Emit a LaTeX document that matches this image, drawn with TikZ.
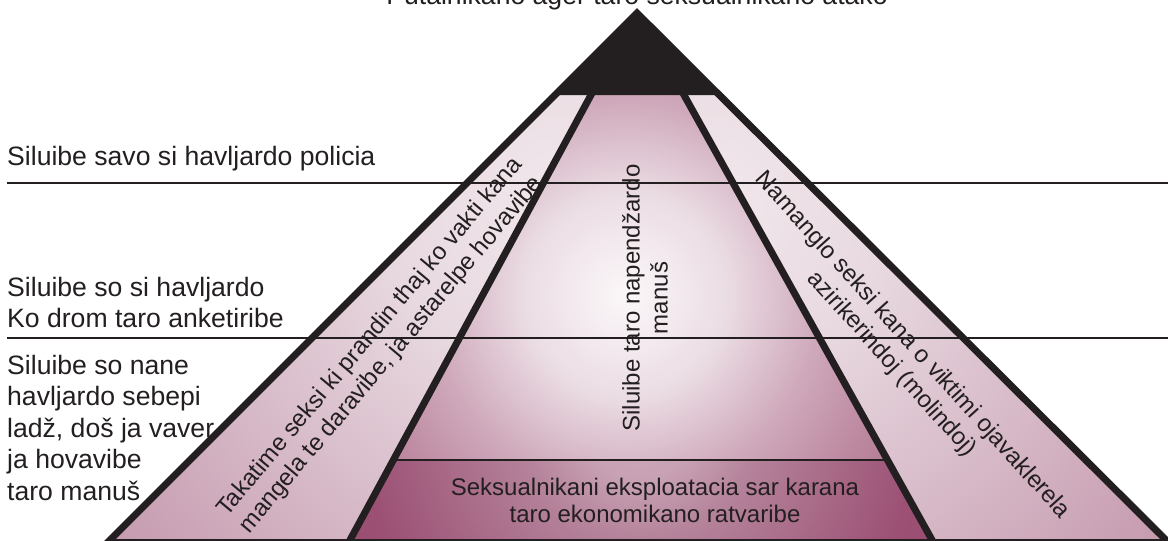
\documentclass[tikz,border=0pt]{standalone}
\usepackage{fontspec}
\setmainfont{Liberation Sans}
\definecolor{ink}{HTML}{231F20}
\definecolor{bandA}{HTML}{F1E8EC}
\definecolor{bandB}{HTML}{E8D9E0}
\definecolor{bandC}{HTML}{C599AE}
\definecolor{cenA}{HTML}{FBF7F9}
\definecolor{cenB}{HTML}{EBDDE4}
\definecolor{cenC}{HTML}{CFA9BB}
\definecolor{cenD}{HTML}{BE8BA2}
\definecolor{cenE}{HTML}{A86D89}
\definecolor{botA}{HTML}{CEAABC}
\definecolor{botB}{HTML}{C8A1B4}
\definecolor{botC}{HTML}{B4829A}
\definecolor{botD}{HTML}{9C5174}
\definecolor{botE}{HTML}{984A6E}
\pgfdeclareradialshading{bandshade}{\pgfpoint{0bp}{0bp}}{color(0bp)=(bandA); color(15bp)=(bandB); color(50bp)=(bandC)}
\pgfdeclareradialshading{centershade}{\pgfpoint{0bp}{0bp}}{color(0bp)=(cenA); color(14bp)=(cenB); color(27bp)=(cenC); color(37bp)=(cenD); color(50bp)=(cenE)}
\pgfdeclareradialshading{bottomshade}{\pgfpoint{0bp}{0bp}}{color(0bp)=(botA); color(8.8bp)=(botB); color(17.6bp)=(botC); color(40.7bp)=(botD); color(50bp)=(botE)}
\tikzset{
  lab/.style={font=\fontsize{26.6}{31.5}\selectfont, text=ink, inner sep=0pt},
  inlab/.style={font=\fontsize{24}{28}\selectfont, text=ink, inner sep=0pt, align=center},
  thinline/.style={draw=ink, line width=1.3pt},
  heavyline/.style={draw=ink, line width=7pt, line join=miter},
}
\begin{document}
\begin{tikzpicture}[x=1pt,y=-1pt]
\useasboundingbox (0,0) rectangle (1168,541);
% key points
\coordinate (A) at (637,13);
\coordinate (BL) at (110,540);
\coordinate (BR) at (1166,540);
\coordinate (BLx) at (102,548);
\coordinate (BRx) at (1174,548);
\coordinate (TL) at (554,95);
\coordinate (TR) at (720,95);
\coordinate (IL0) at (593.7,90);
\coordinate (IL1) at (591,95);
\coordinate (IL2) at (350,540);
\coordinate (IL3) at (345.7,548);
\coordinate (IR0) at (681.2,90);
\coordinate (IR1) at (684,95);
\coordinate (IR2) at (932,540);
\coordinate (IR3) at (936.5,548);
\coordinate (ML) at (393.3,460);
\coordinate (MR) at (887.4,460);
\coordinate (H1a) at (7,183);
\coordinate (H1b) at (1168,183);
\coordinate (H2a) at (7,338);
\coordinate (H2b) at (1168,338);
% fills (radial shadings at exact scale: 50bp of the shading = given radius)
\begin{scope}
  \clip (TL) -- (IL1) -- (IL2) -- (BL) -- cycle;
  \begin{scope}[shift={(560,200)}]
    \pgftransformscale{11.4}\pgflowlevelsynccm\pgfuseshading{bandshade}
  \end{scope}
\end{scope}
\begin{scope}
  \clip (IR1) -- (TR) -- (BR) -- (IR2) -- cycle;
  \begin{scope}[shift={(714,200)}]
    \pgftransformscale{11.4}\pgflowlevelsynccm\pgfuseshading{bandshade}
  \end{scope}
\end{scope}
\begin{scope}
  \clip (IL1) -- (IR1) -- (MR) -- (ML) -- cycle;
  \begin{scope}[shift={(625,295)}]
    \pgftransformscale{7.17}\pgflowlevelsynccm\pgfuseshading{centershade}
  \end{scope}
\end{scope}
\begin{scope}
  \clip (ML) -- (MR) -- (IR2) -- (IL2) -- cycle;
  \begin{scope}[shift={(640,420)}]
    \pgftransformscale{6.8}\pgflowlevelsynccm\pgfuseshading{bottomshade}
  \end{scope}
\end{scope}
% thin lines
\draw[thinline] (H1a) -- (H1b);
\draw[thinline] (H2a) -- (H2b);
\draw[thinline] (ML) -- (MR);
\draw[thinline] (BL) -- (BR);
% black top
\fill[ink] (A) -- (TR) -- (TL) -- cycle;
% heavy lines
\draw[heavyline] (BLx) -- (A) -- (BRx);
\draw[heavyline] (IL0) -- (IL3);
\draw[heavyline] (IR0) -- (IR3);
% texts
\node[lab, anchor=base] (title) at (637,4.5) {Putalnikano ager taro seksualnikano atako};
\node[lab, anchor=base west] (t1) at (7,165) {Siluibe savo si havljardo policia};
\node[lab, anchor=base west] (t2) at (7,296) {Siluibe so si havljardo};
\node[lab, anchor=base west] (t3) at (7,327) {Ko drom taro anketiribe};
\node[lab, anchor=base west] (t4) at (7,374) {Siluibe so nane};
\node[lab, anchor=base west] (t5) at (7,405.5) {havljardo sebepi};
\node[lab, anchor=base west] (t6) at (7,437) {ladž, doš ja vaver};
\node[lab, anchor=base west] (t7) at (7,468.5) {ja hovavibe};
\node[lab, anchor=base west] (t8) at (7,500) {taro manuš};
\node[inlab, rotate=50] (lband) at (381,346) {Takatime seksi ki prandin thaj ko vakti kana\\mangela te daravibe, ja astarelpe hovavibe};
\node[inlab, rotate=-48] (rband) at (902,355) {Namanglo seksi kana o viktimi ojavaklerela\\azirikerindoj (molindoj)};
\node[inlab, rotate=90] (cband) at (645,298) {Siluibe taro napendžardo\\manuš};
\node[inlab, font=\fontsize{24}{27}\selectfont] (bottom) at (655,500) {Seksualnikani eksploatacia sar karana\\taro ekonomikano ratvaribe};
\end{tikzpicture}
\end{document}
